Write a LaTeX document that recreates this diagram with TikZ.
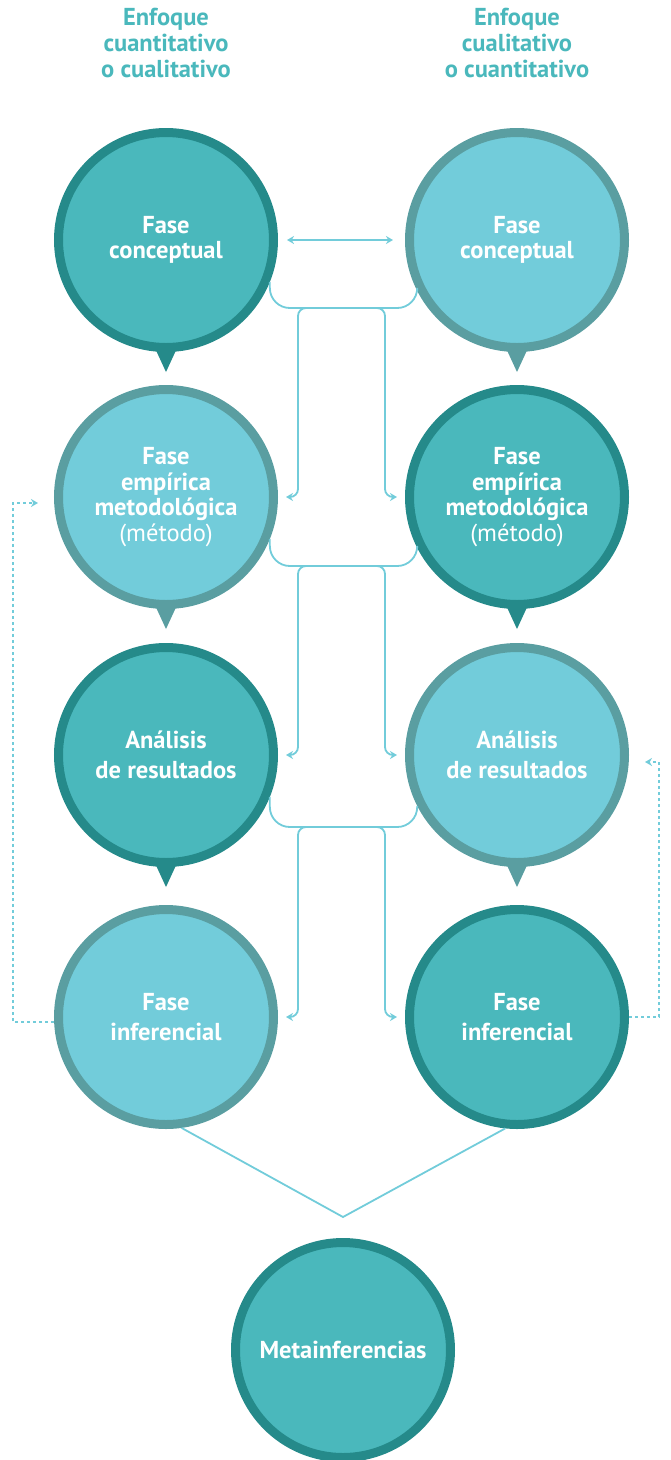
\documentclass[tikz,border=0pt]{standalone}
\usepackage{fontspec}
\setmainfont{PT Sans}
\usetikzlibrary{arrows.meta,calc}
\definecolor{darkfill}{HTML}{4AB8BC}
\definecolor{darkborder}{HTML}{258A8A}
\definecolor{lightfill}{HTML}{72CCDA}
\definecolor{lightborder}{HTML}{5A9EA1}
\definecolor{conncol}{HTML}{72CCDA}
\definecolor{headcol}{HTML}{4AB8BC}
\begin{document}
\begin{tikzpicture}[x=1pt,y=-1pt,
  phase/.style={circle, minimum size=215pt, inner sep=0pt, line width=9pt, align=center, text=white,
    font=\fontsize{24.5}{25.5}\selectfont\bfseries},
  darkph/.style={phase, draw=darkborder, fill=darkfill},
  lightph/.style={phase, draw=lightborder, fill=lightfill},
  conn/.style={draw=conncol, line width=1.8pt},
  tipend/.style={-{Stealth[length=7pt,width=8pt]}},
  feedback/.style={conn, dash pattern=on 3pt off 3pt},
  header/.style={align=center, text=headcol, font=\fontsize{24.5}{26}\selectfont\bfseries}]
\useasboundingbox (0,0) rectangle (671,1460);

% headers
\node[header] (h1) at (166,43) {Enfoque\\cuantitativo\\o cualitativo};
\node[header] (h2) at (517,43) {Enfoque\\cualitativo\\o cuantitativo};

% circles
\node[darkph]  (L1) at (166,240) {Fase\\conceptual};
\node[lightph] (R1) at (517,240) {Fase\\conceptual};
\node[lightph] (L2) at (166,497) {Fase\\empírica\\metodológica\\{\mdseries(método)}};
\node[darkph]  (R2) at (517,497) {Fase\\empírica\\metodológica\\{\mdseries(método)}};
\node[darkph]  (L3) at (166,755) {Análisis\\[4.5pt]de resultados};
\node[lightph] (R3) at (517,755) {Análisis\\[4.5pt]de resultados};
\node[lightph] (L4) at (166,1017) {Fase\\[4.5pt]inferencial};
\node[darkph]  (R4) at (517,1017) {Fase\\[4.5pt]inferencial};
\node[darkph]  (M)  at (343,1350) {Metainferencias};

% pointers
\foreach \n/\c in {L1/darkborder,R1/lightborder,L2/lightborder,R2/darkborder,L3/darkborder,R3/lightborder}{
  \fill[\c] ($(\n.center)+(-12,106)$) -- ($(\n.center)+(12,106)$) -- ($(\n.center)+(0,132)$) -- cycle;
}

% double arrow
\draw[conn,{Stealth[length=7pt,width=8pt]}-{Stealth[length=7pt,width=8pt]}, shorten <=9pt, shorten >=12pt] (L1.east) -- (R1.west);

% cross connectors
\coordinate (U1) at (343,308);
\coordinate (U2) at (343,566);
\coordinate (U3) at (343,827);
\foreach \a/\b/\c/\d/\u in {L1/R1/L2/R2/U1, L2/R2/L3/R3/U2, L3/R3/L4/R4/U3}{
  \draw[conn, rounded corners=20pt] (\a.-22) |- (\u) -| (\b.-153);
  \draw[conn, tipend, rounded corners=8pt] (\u) -| ([xshift=20pt]\c.east) -- ([xshift=8pt]\c.east);
  \draw[conn, tipend, rounded corners=8pt] (\u) -| ([xshift=-20pt]\d.west) -- ([xshift=-8pt]\d.west);
}

% feedback dashed
\coordinate (dL) at (13,503);
\coordinate (dR) at (659,762);
\draw[feedback, tipend] ([shift={(0,5)}]L4.west) -| (dL) -- ([shift={(-16,6)}]L2.west);
\draw[feedback, tipend] (R4.east) -| (dR) -- ([shift={(16,7)}]R3.east);

% V to meta
\coordinate (V) at (343,1217);
\draw[conn] (L4.-82) -- (V) -- (R4.-96);
\end{tikzpicture}
\end{document}
